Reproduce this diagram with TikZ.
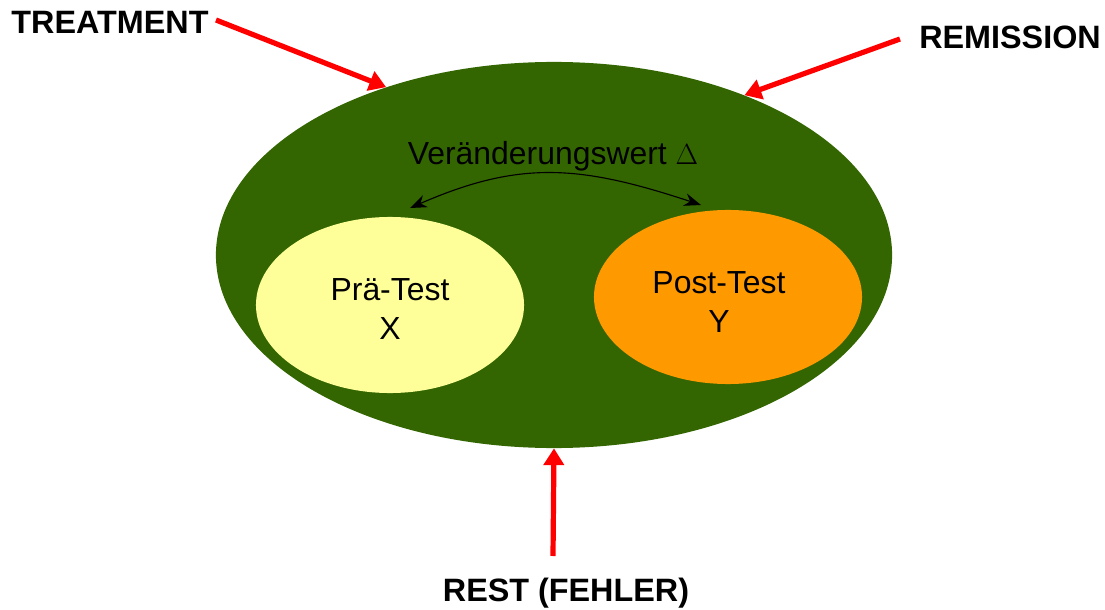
\documentclass[tikz,border=0pt]{standalone}
\usepackage{fontspec}
\setmainfont{Liberation Sans}
\usepackage{tikz}
\usetikzlibrary{positioning,shapes.geometric,arrows.meta}

\definecolor{design}{HTML}{336600}
\definecolor{pretest}{HTML}{FFFF99}
\definecolor{posttest}{HTML}{FF9900}

\begin{document}
\begin{tikzpicture}[x=0.025cm, y=-0.025cm, font=\fontsize{22.7}{27.5}\selectfont,
                    test node/.style={ellipse,minimum width=6.7cm,minimum height=4.4cm,inner sep=0pt},
                    test label/.style={align=center,inner sep=0pt},
                    factor node/.style={font=\fontsize{23}{28}\selectfont\bfseries},
                    red arrow/.style={-{Triangle[length=0.42cm,width=0.5cm]},line width=0.13cm,red}]

   \useasboundingbox (0,0) rectangle (1105,610);

   % outer design ellipse with the two measurements
   \node[ellipse,fill=design,minimum width=16.9cm,minimum height=9.65cm] (design) at (554,255) {};
   \node[test node,fill=pretest] (pre) at (390,305) {};
   \node[test node,fill=posttest,minimum height=4.35cm] (post) at (728,297) {};
   \node[test label] (pretext) at (390,309) {Prä-Test\\X};
   \node[test label] (posttext) at (719,302) {Post-Test\\Y};

   % change score
   \coordinate (lt) at (410,208);
   \coordinate (rt) at (701,205);
   \node (delta) at (553,156) {Veränderungswert $\Delta$};
   \draw[{Stealth[length=0.42cm,width=0.32cm]}-{Stealth[length=0.42cm,width=0.32cm]},line width=0.8pt]
      (lt) .. controls (520,160) and (580,165) .. (rt);

   % influences from outside
   \node[factor node] (treat) at (110,22) {TREATMENT};
   \node[factor node] (remis) at (1010,37) {REMISSION};
   \node[factor node] (rest) at (566,593) {REST (FEHLER)};

   \coordinate (t0) at (216,20);
   \coordinate (r0) at (900,39);
   \coordinate (e0) at (553,556);

   \path[red arrow]
    (t0) edge (design.135)
    (r0) edge (design.40)
    (e0) edge (design.south);

\end{tikzpicture}
\end{document}
